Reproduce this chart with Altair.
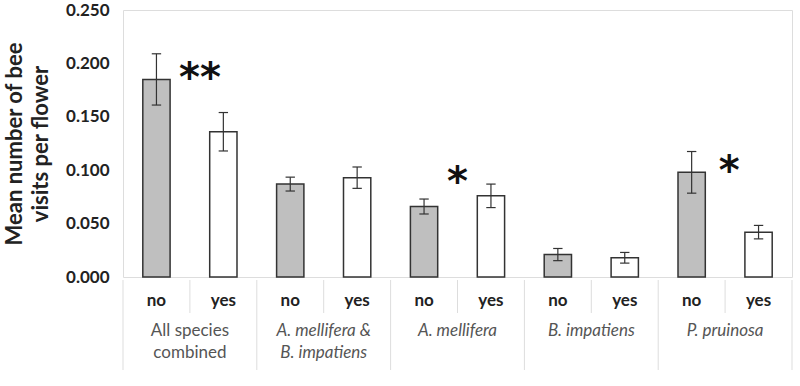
import altair as alt
import pandas as pd

# ---- data ----
groups = ["All species\ncombined", "A. mellifera &\nB. impatiens", "A. mellifera", "B. impatiens", "P. pruinosa"]
group_italic = [False, True, True, True, True]
treatments = ["no", "yes"]
means = [0.185, 0.136, 0.087, 0.093, 0.066, 0.076, 0.021, 0.018, 0.098, 0.042]
errors = [0.024, 0.018, 0.0065, 0.010, 0.007, 0.011, 0.0057, 0.005, 0.0195, 0.0063]
stars = ["**", "*", "*"]
star_x = [1.15, 5.0, 9.06]
star_y = [0.185, 0.088, 0.098]

W, H = 669, 267
FONT = "Lato"

rows = []
for i, (m, e) in enumerate(zip(means, errors)):
    rows.append(dict(i=i, x0=i + 0.296, x1=i + 0.704, xc=i + 0.5,
                     cl=i + 0.43, cr=i + 0.57,
                     m=m, lo=m - e, hi=m + e,
                     t=treatments[i % 2], fill="#bfbfbf" if i % 2 == 0 else "#ffffff"))
df = pd.DataFrame(rows)

xs = alt.Scale(domain=[0, 10], nice=False, zero=False)
ys = alt.Scale(domain=[0, 0.25], nice=False)

base = alt.Chart(df)

bars = base.mark_bar(stroke="#333333", strokeWidth=1.5).encode(
    x=alt.X("x0:Q", scale=xs, axis=None),
    x2="x1:Q",
    y=alt.Y("m:Q", scale=ys,
            axis=alt.Axis(values=[0, 0.05, 0.1, 0.15, 0.2, 0.25], format=".3f",
                          title=["Mean number of bee", "visits per flower"],
                          titleFont=FONT, titleFontSize=22, titleFontWeight="bold",
                          titleColor="#222", titleLineHeight=26, titlePadding=13,
                          labelFont=FONT, labelFontSize=17, labelFontWeight="bold",
                          labelColor="#222", labelPadding=14, tickSize=0,
                          domain=False, grid=False)),
    y2=alt.datum(0),
    fill=alt.Fill("fill:N", scale=None),
)

err = base.mark_rule(color="#333333", strokeWidth=1.2).encode(
    x=alt.X("xc:Q", scale=xs), y=alt.Y("lo:Q", scale=ys), y2="hi:Q")
cap_hi = base.mark_rule(color="#333333", strokeWidth=1.2).encode(
    x=alt.X("cl:Q", scale=xs), x2="cr:Q", y=alt.Y("hi:Q", scale=ys))
cap_lo = base.mark_rule(color="#333333", strokeWidth=1.2).encode(
    x=alt.X("cl:Q", scale=xs), x2="cr:Q", y=alt.Y("lo:Q", scale=ys))

sdf = pd.DataFrame(dict(s=stars, x=star_x, y=star_y))
star_txt = alt.Chart(sdf).mark_text(font="DejaVu Sans", fontSize=40, fontWeight="bold",
                                    color="#111", baseline="middle").encode(
    x=alt.X("x:Q", scale=xs), y=alt.Y("y:Q", scale=ys), text="s:N")

# bottom label table
tr_txt = base.mark_text(font=FONT, fontSize=17, fontWeight="bold", color="#222",
                        baseline="middle").encode(
    x=alt.X("xc:Q", scale=xs), y=alt.value(H + 24), text="t:N")

sepdf = pd.DataFrame(dict(x=list(range(11)), long=[k % 2 == 0 for k in range(11)]))
seps_long = alt.Chart(sepdf[sepdf.long]).mark_rule(color="#dddddd", strokeWidth=1).encode(
    x=alt.X("x:Q", scale=xs), y=alt.value(H + 3), y2=alt.value(H + 93))
seps_short = alt.Chart(sepdf[~sepdf.long]).mark_rule(color="#dddddd", strokeWidth=1).encode(
    x=alt.X("x:Q", scale=xs), y=alt.value(H + 3), y2=alt.value(H + 36))

gdf = pd.DataFrame(dict(g=groups, x=[2 * k + 1 for k in range(5)], it=group_italic))
g_norm = alt.Chart(gdf[~gdf.it]).mark_text(font=FONT, fontSize=17, color="#555555",
                                           baseline="middle", lineBreak="\n", lineHeight=22).encode(
    x=alt.X("x:Q", scale=xs), y=alt.value(H + 54), text="g:N")
g_ital = alt.Chart(gdf[gdf.it]).mark_text(font=FONT, fontSize=17, color="#555555", fontStyle="italic",
                                          baseline="middle", lineBreak="\n", lineHeight=22).encode(
    x=alt.X("x:Q", scale=xs), y=alt.value(H + 54), text="g:N")

chart = alt.layer(bars, err, cap_hi, cap_lo, star_txt, seps_long, seps_short, tr_txt, g_norm, g_ital).properties(
    width=W, height=H,
    autosize=alt.AutoSizeParams(type="none"),
    padding={"left": 123, "top": 10, "right": 8, "bottom": 109},
).configure_view(stroke="#222222", strokeWidth=2).configure(background="white")

chart.save("out.html", embed_options={"renderer": "svg", "actions": False})
